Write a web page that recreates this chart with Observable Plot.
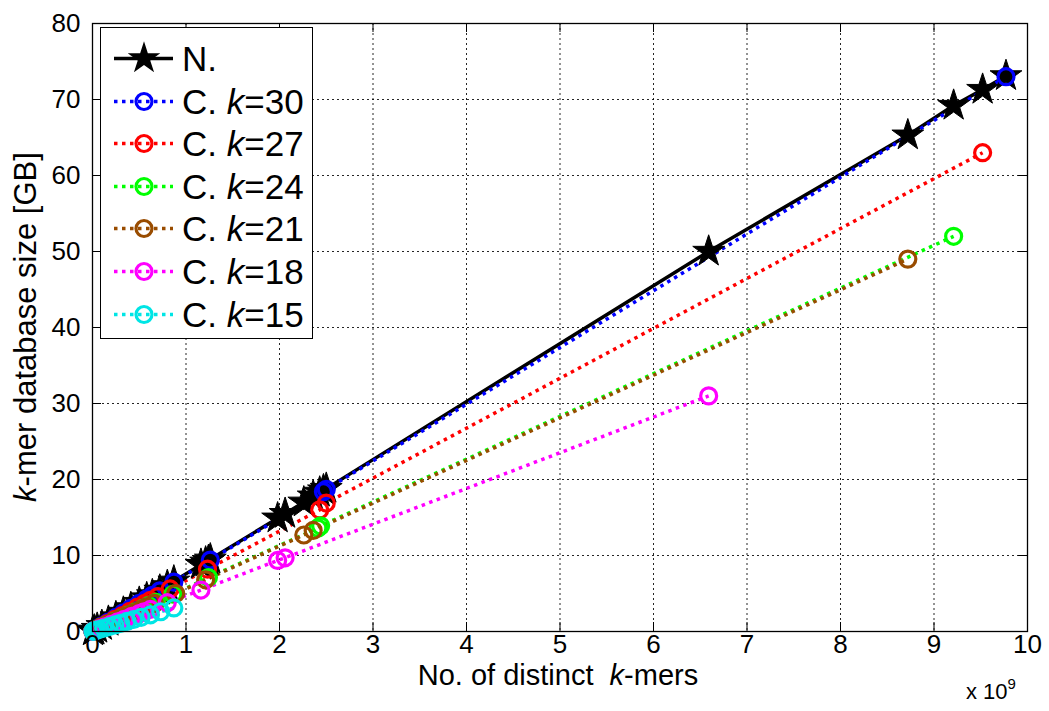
<!DOCTYPE html>
<html><head><meta charset="utf-8">
<script src="https://cdn.jsdelivr.net/npm/d3@7"></script>
<script src="https://cdn.jsdelivr.net/npm/@observablehq/plot@0.6"></script>
<style>
body{margin:0;background:#fff;}
#wrap{position:relative;width:1049px;height:711px;font-family:"Liberation Sans",Arial,Helvetica,sans-serif;color:#000;}
.lab{position:absolute;white-space:nowrap;}
#legend{position:absolute;left:100px;top:27px;width:211px;height:310px;border:1.5px solid #000;background:#fff;}
.row{position:absolute;left:0;height:43px;width:211px;}
.row svg{position:absolute;left:0;top:0;}
.row span{position:absolute;left:81px;top:0;line-height:43px;font-size:35px;}
</style></head>
<body><div id="wrap"></div>
<script>
const xTicks = [0,1,2,3,4,5,6,7,8,9,10];
const yTicks = [0,10,20,30,40,50,60,70,80];
const seriesNames = ["N.","C. k=30","C. k=27","C. k=24","C. k=21","C. k=18","C. k=15"];
const seriesColors = ["#000000","#0000ff","#ff0000","#00ff00","#994c00","#ff00ff","#00e5e5"];

const nX = [0.005,0.02,0.05,0.1,0.17,0.25,0.33,0.41,0.5,0.58,0.64,0.72,0.8,0.87,1.16,1.21,1.24,1.26,1.98,2.06,2.26,2.36,2.43,2.47,2.5,6.59,8.72,9.21,9.52,9.77];
const nY = [0.04,0.15,0.38,0.75,1.3,1.9,2.5,3.1,3.8,4.4,4.8,5.4,6.0,6.6,8.8,9.1,9.3,9.5,14.9,15.5,17.0,17.8,18.3,18.6,18.8,50.0,65.3,69.2,71.3,73.1];
const c30X = [0.005,0.02,0.05,0.1,0.17,0.25,0.33,0.41,0.5,0.58,0.64,0.72,0.87,1.26,2.47,2.5,9.77];
const c30Y = [0.04,0.15,0.37,0.74,1.25,1.85,2.45,3.05,3.7,4.3,4.75,5.35,6.5,9.4,18.4,18.7,73.0];
const c27X = [0.005,0.02,0.05,0.09,0.16,0.24,0.32,0.4,0.48,0.56,0.62,0.7,0.83,1.23,2.43,2.5,9.52];
const c27Y = [0.03,0.13,0.33,0.6,1.05,1.6,2.1,2.65,3.2,3.7,4.1,4.6,5.6,8.2,16.0,16.9,63.0];
const c24X = [0.005,0.02,0.05,0.09,0.15,0.23,0.31,0.38,0.46,0.54,0.6,0.68,0.86,1.24,2.41,2.44,9.21];
const c24Y = [0.03,0.11,0.28,0.5,0.85,1.3,1.75,2.15,2.6,3.05,3.4,3.85,4.9,7.1,13.6,13.9,52.0];
const c21X = [0.005,0.02,0.04,0.08,0.14,0.22,0.3,0.37,0.45,0.52,0.58,0.66,0.89,1.21,2.26,2.36,8.72];
const c21Y = [0.03,0.11,0.22,0.45,0.8,1.25,1.7,2.1,2.5,2.9,3.25,3.7,5.0,6.8,12.7,13.3,49.0];
const c18X = [0.005,0.02,0.04,0.08,0.13,0.2,0.27,0.34,0.42,0.5,0.55,0.62,0.8,1.16,1.98,2.06,6.59];
const c18Y = [0.02,0.09,0.19,0.38,0.6,0.95,1.27,1.6,2.0,2.35,2.6,2.9,3.8,5.45,9.35,9.7,31.0];
const c15X = [0.005,0.02,0.04,0.07,0.12,0.18,0.24,0.3,0.37,0.44,0.52,0.62,0.73,0.87];
const c15Y = [0.02,0.07,0.15,0.26,0.43,0.65,0.86,1.07,1.33,1.58,1.87,2.2,2.6,3.1];

const allX = [nX,c30X,c27X,c24X,c21X,c18X,c15X];
const allY = [nY,c30Y,c27Y,c24Y,c21Y,c18Y,c15Y];
const series = allX.map((xs,i)=>xs.map((x,j)=>({name:seriesNames[i],x,y:allY[i][j]})));

const tickLenX = 9/7.6;   // in data units of y
const tickLenY = 9/93.5;  // in data units of x
const gridStyle = {stroke:"#000",strokeOpacity:0.85,strokeWidth:1,strokeDasharray:"2,3"};

const marks = [
  Plot.gridX(xTicks.slice(1,-1),gridStyle),
  Plot.gridY(yTicks.slice(1,-1),gridStyle),
  Plot.ruleX(xTicks,{x:d=>d,y1:0,y2:tickLenX,stroke:"#000"}),
  Plot.ruleX(xTicks,{x:d=>d,y1:80-tickLenX,y2:80,stroke:"#000"}),
  Plot.ruleY(yTicks,{y:d=>d,x1:0,x2:tickLenY,stroke:"#000"}),
  Plot.ruleY(yTicks,{y:d=>d,x1:10-tickLenY,x2:10,stroke:"#000"}),
  Plot.line(series[0],{x:"x",y:"y",stroke:seriesColors[0],strokeWidth:3.5})
];
for(let i=1;i<series.length;i++){
  marks.push(Plot.line(series[i],{x:"x",y:"y",stroke:seriesColors[i],strokeWidth:3.5,strokeDasharray:"3.5,4.5",strokeLinecap:"butt"}));
}
marks.push(Plot.dot(series[0],{x:"x",y:"y",symbol:"star",r:10,fill:"#000",stroke:"#000",strokeWidth:1}));
for(let i=1;i<series.length;i++){
  marks.push(Plot.dot(series[i],{x:"x",y:"y",r:8,fill:"none",stroke:seriesColors[i],strokeWidth:3.2}));
}
marks.push(
  Plot.axisX(xTicks,{tickSize:0,tickPadding:3,fontSize:26,label:null}),
  Plot.axisY(yTicks,{tickSize:0,tickPadding:12,fontSize:26,label:null}),
  Plot.frame({stroke:"#000",strokeWidth:1.3})
);

const chart = Plot.plot({
  width:1049,height:711,
  marginLeft:92,marginRight:22,marginTop:23,marginBottom:80,
  x:{domain:[0,10]},
  y:{domain:[0,80]},
  style:{fontFamily:'"Liberation Sans",Arial,Helvetica,sans-serif',fontSize:"26px",color:"#000",background:"#fff",overflow:"visible"},
  marks
});
const wrap = document.getElementById("wrap");
wrap.appendChild(chart);

// axis titles
const xl = document.createElement("div");
xl.className="lab";
xl.style.cssText="left:558px;top:660px;transform:translateX(-50%);font-size:29px;line-height:30px;";
xl.innerHTML="No. of distinct&nbsp; <i>k</i>-mers";
wrap.appendChild(xl);

const yl = document.createElement("div");
yl.className="lab";
yl.style.cssText="left:26px;top:327px;transform:translate(-50%,-50%) rotate(-90deg);font-size:31px;";
yl.innerHTML="<i>k</i>-mer database size [GB]";
wrap.appendChild(yl);

const ex = document.createElement("div");
ex.className="lab";
ex.style.cssText="left:966px;top:680px;font-size:22px;line-height:24px;";
ex.innerHTML="x 10<span style='font-size:15px;position:relative;top:-10px'>9</span>";
wrap.appendChild(ex);

// legend
const lg = document.createElement("div");
lg.id="legend";
wrap.appendChild(lg);
const starPath = d3.symbol(d3.symbolStar, 330)();
seriesNames.forEach((name,i)=>{
  const row = document.createElement("div");
  row.className="row";
  row.style.top=(9+i*42.6)+"px";
  const col = seriesColors[i];
  const dash = i===0 ? "" : "stroke-dasharray='3.5,4.5'";
  const marker = i===0
    ? `<path d="${starPath}" transform="translate(43,21.5)" fill="#000"/>`
    : `<circle cx="43" cy="21.5" r="8" fill="none" stroke="${col}" stroke-width="3.2"/>`;
  row.innerHTML = `<svg width="80" height="43"><line x1="13" x2="72" y1="21.5" y2="21.5" stroke="${col}" stroke-width="3.5" ${dash}/>${marker}</svg>`;
  const sp = document.createElement("span");
  sp.innerHTML = i===0 ? "N." : name.replace("k=","<i>k</i>=");
  row.appendChild(sp);
  lg.appendChild(row);
});
</script></body></html>
